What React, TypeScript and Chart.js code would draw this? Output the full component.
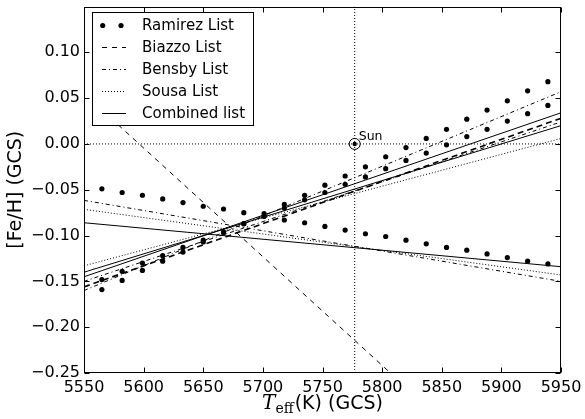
import React, { useEffect, useRef } from "react";
import { Chart, registerables } from "chart.js";
Chart.register(...registerables);

// ---- data ----
const ramirezTeff = [5565, 5582, 5599, 5616, 5633, 5650, 5667, 5684, 5701, 5718, 5735, 5752, 5769, 5786, 5803, 5820, 5837, 5854, 5871, 5888, 5905, 5922, 5939];
const ramirezSteep = [-0.159, -0.149, -0.138, -0.128, -0.118, -0.107, -0.097, -0.087, -0.076, -0.066, -0.056, -0.045, -0.035, -0.025, -0.014, -0.004, 0.006, 0.016, 0.027, 0.037, 0.047, 0.058, 0.068];
const ramirezShallow = [-0.148, -0.139, -0.130, -0.122, -0.113, -0.105, -0.096, -0.087, -0.079, -0.070, -0.061, -0.053, -0.044, -0.036, -0.027, -0.018, -0.010, -0.001, 0.008, 0.016, 0.025, 0.033, 0.042];
const ramirezDecr = [-0.049, -0.053, -0.056, -0.060, -0.064, -0.068, -0.071, -0.075, -0.079, -0.083, -0.086, -0.090, -0.094, -0.098, -0.101, -0.105, -0.109, -0.113, -0.116, -0.120, -0.124, -0.128, -0.131];

const lineTeff = [5550, 5950];
const combinedUpA = [-0.145, 0.034];
const combinedUpB = [-0.140, 0.020];
const combinedDown = [-0.086, -0.134];
const biazzoUp = [-0.156, 0.028];
const biazzoSteepTeff = [5560, 5807];
const biazzoSteep = [0.043, -0.25];
const bensbyUpA = [-0.160, 0.057];
const bensbyUpB = [-0.150, 0.024];
const bensbyDown = [-0.0616, -0.150];
const sousaUp = [-0.133, 0.006];
const sousaDown = [-0.0714, -0.143];

const sunTeff = 5777;
const sunFeH = 0;

const xTicks = [5550, 5600, 5650, 5700, 5750, 5800, 5850, 5900, 5950];
const yTicks = [-0.25, -0.2, -0.15, -0.1, -0.05, 0, 0.05, 0.1, 0.15];
const legendLabels = ["Ramirez List", "Biazzo List", "Bensby List", "Sousa List", "Combined list"];

const pts = (xs: number[], ys: number[]) => xs.map((x, i) => ({ x, y: ys[i] }));

const DASHED = [5, 5];
const DASHDOT = [4, 3, 1, 3];
const DOTTED = [1, 2];

function lineDs(xs: number[], ys: number[], dash: number[], width = 1) {
  return {
    data: pts(xs, ys),
    showLine: true,
    borderColor: "#000",
    backgroundColor: "#000",
    borderWidth: width,
    borderDash: dash,
    pointRadius: 0,
    pointHoverRadius: 0,
    fill: false,
    tension: 0,
  };
}

function dotDs(xs: number[], ys: number[]) {
  return {
    data: pts(xs, ys),
    showLine: false,
    pointRadius: 2.6,
    pointBackgroundColor: "#000",
    pointBorderColor: "#000",
    pointBorderWidth: 0,
  };
}

const SANS = "'DejaVu Sans', sans-serif";

const decor = {
  id: "decor",
  afterDraw(chart: any) {
    const ctx = chart.ctx as CanvasRenderingContext2D;
    const { left, right, top, bottom } = chart.chartArea;
    const xs = chart.scales.x;
    const ys = chart.scales.y;
    ctx.save();
    ctx.strokeStyle = "#000";
    ctx.fillStyle = "#000";
    ctx.lineWidth = 1;
    ctx.setLineDash([]);
    // frame
    const L = Math.round(left) + 0.5, R = Math.round(right) - 0.5;
    const T = Math.round(top) + 0.5, B = Math.round(bottom) - 0.5;
    ctx.strokeRect(L, T, R - L, B - T);
    // inward ticks on all sides
    const tl = 5;
    ctx.beginPath();
    xTicks.forEach((v) => {
      const p = Math.round(xs.getPixelForValue(v)) + 0.5;
      ctx.moveTo(p, B); ctx.lineTo(p, B - tl);
      ctx.moveTo(p, T); ctx.lineTo(p, T + tl);
    });
    yTicks.forEach((v) => {
      const p = Math.round(ys.getPixelForValue(v)) + 0.5;
      ctx.moveTo(L, p); ctx.lineTo(L + tl, p);
      ctx.moveTo(R, p); ctx.lineTo(R - tl, p);
    });
    ctx.stroke();

    // Sun label
    ctx.font = `12.5px ${SANS}`;
    ctx.textAlign = "left";
    ctx.textBaseline = "alphabetic";
    const sx = xs.getPixelForValue(sunTeff);
    const sy = ys.getPixelForValue(sunFeH);
    ctx.fillText("Sun", sx + 4, sy - 4);

    // legend
    const bx = 92.5, by = 12.5, bw = 161, bh = 113;
    ctx.fillStyle = "#fff";
    ctx.fillRect(bx, by, bw, bh);
    ctx.strokeStyle = "#000";
    ctx.strokeRect(bx, by, bw, bh);
    ctx.fillStyle = "#000";
    ctx.font = `15px ${SANS}`;
    ctx.textBaseline = "middle";
    const rowY = (i: number) => 25 + i * 22;
    const x0 = 102, x1 = 126;
    legendLabels.forEach((lab, i) => {
      const y = Math.round(rowY(i)) + 0.5;
      ctx.lineWidth = 1;
      if (i === 0) {
        [102.7, 121].forEach((cx) => {
          ctx.beginPath();
          ctx.arc(cx, y, 2.6, 0, Math.PI * 2);
          ctx.fill();
        });
      } else {
        const dash = i === 1 ? DASHED : i === 2 ? DASHDOT : i === 3 ? DOTTED : [];
        ctx.setLineDash(dash);
        ctx.beginPath();
        ctx.moveTo(x0, y);
        ctx.lineTo(x1, y);
        ctx.stroke();
        ctx.setLineDash([]);
      }
      ctx.fillText(lab, 142, rowY(i) + 1);
    });

    // axis titles
    ctx.save();
    ctx.translate(16, (top + bottom) / 2);
    ctx.rotate(-Math.PI / 2);
    ctx.textAlign = "center";
    ctx.textBaseline = "middle";
    ctx.font = `19px ${SANS}`;
    ctx.fillText("[Fe/H] (GCS)", 0, 0);
    ctx.restore();

    // x title: T_eff(K) (GCS)
    const baseY = 409;
    const fT = "italic 20px 'DejaVu Serif', serif";
    const fSub = "14px 'DejaVu Serif', serif";
    const fRest = `19px ${SANS}`;
    ctx.textBaseline = "alphabetic";
    ctx.textAlign = "left";
    ctx.font = fT; const wT = ctx.measureText("T").width;
    ctx.font = fSub; const wS = ctx.measureText("eff").width;
    ctx.font = fRest; const wR = ctx.measureText("(K) (GCS)").width;
    const total = wT + wS + wR + 1;
    let cx = (left + right) / 2 - total / 2;
    ctx.font = fT; ctx.fillText("T", cx, baseY); cx += wT;
    ctx.font = fSub; ctx.fillText("eff", cx, baseY + 4); cx += wS + 1;
    ctx.font = fRest; ctx.fillText("(K) (GCS)", cx, baseY);
    ctx.restore();
  },
};

export default function App() {
  const ref = useRef<HTMLCanvasElement>(null);
  useEffect(() => {
    document.body.style.margin = "0";
    const canvas = ref.current!;
    const datasets: any[] = [
      lineDs([sunTeff, sunTeff], [-0.25, 0.15], DOTTED),
      lineDs(lineTeff, [sunFeH, sunFeH], DOTTED),
      lineDs(lineTeff, sousaUp, DOTTED),
      lineDs(lineTeff, sousaDown, DOTTED),
      lineDs(lineTeff, bensbyUpA, DASHDOT),
      lineDs(lineTeff, bensbyUpB, DASHDOT),
      lineDs(lineTeff, bensbyDown, DASHDOT),
      lineDs(lineTeff, biazzoUp, [6, 4], 1.6),
      lineDs(biazzoSteepTeff, biazzoSteep, DASHED),
      lineDs(lineTeff, combinedUpA, []),
      lineDs(lineTeff, combinedUpB, []),
      lineDs(lineTeff, combinedDown, []),
      dotDs(ramirezTeff, ramirezSteep),
      dotDs(ramirezTeff, ramirezShallow),
      dotDs(ramirezTeff, ramirezDecr),
      {
        data: [{ x: sunTeff, y: sunFeH }],
        showLine: false,
        pointRadius: 5.5,
        pointBackgroundColor: "rgba(0,0,0,0)",
        pointBorderColor: "#000",
        pointBorderWidth: 1,
      },
      {
        data: [{ x: sunTeff, y: sunFeH }],
        showLine: false,
        pointRadius: 2.2,
        pointBackgroundColor: "#000",
        pointBorderWidth: 0,
      },
    ];
    const tickFont = { family: "'DejaVu Sans', sans-serif", size: 16 };
    const chart = new Chart(canvas, {
      type: "scatter",
      data: { datasets },
      plugins: [decor],
      options: {
        responsive: false,
        animation: false,
        devicePixelRatio: 1,
        layout: { padding: { left: 0, right: 24, top: 5, bottom: 0 } },
        plugins: { legend: { display: false }, tooltip: { enabled: false } },
        events: [],
        scales: {
          x: {
            type: "linear",
            min: 5550,
            max: 5950,
            afterFit: (s: any) => { s.height = 46; s.paddingLeft = 0; s.paddingRight = 0; },
            afterBuildTicks: (s: any) => { s.ticks = xTicks.map((v) => ({ value: v })); },
            grid: { display: false, drawTicks: false },
            border: { display: false },
            ticks: {
              autoSkip: false,
              maxRotation: 0,
              padding: 5,
              color: "#000",
              font: tickFont,
              callback: (v: any) => String(v),
            },
          },
          y: {
            type: "linear",
            min: -0.25,
            max: 0.15,
            afterFit: (s: any) => { s.width = 84; s.paddingTop = 0; s.paddingBottom = 0; },
            afterBuildTicks: (s: any) => { s.ticks = yTicks.map((v) => ({ value: v })); },
            grid: { display: false, drawTicks: false },
            border: { display: false },
            ticks: {
              autoSkip: false,
              padding: 4,
              color: "#000",
              font: tickFont,
              callback: (v: any) => {
                const r = Math.round(Number(v) * 100) / 100;
                if (r > 0.11) return "";
                const s = Math.abs(r).toFixed(2);
                return r < 0 ? "\u2212" + s : s;
              },
            },
          },
        },
      } as any,
    });
    return () => chart.destroy();
  }, []);
  return (
    <div style={{ width: 585, height: 419 }}>
      <canvas ref={ref} width={585} height={419} style={{ display: "block" }} />
    </div>
  );
}
